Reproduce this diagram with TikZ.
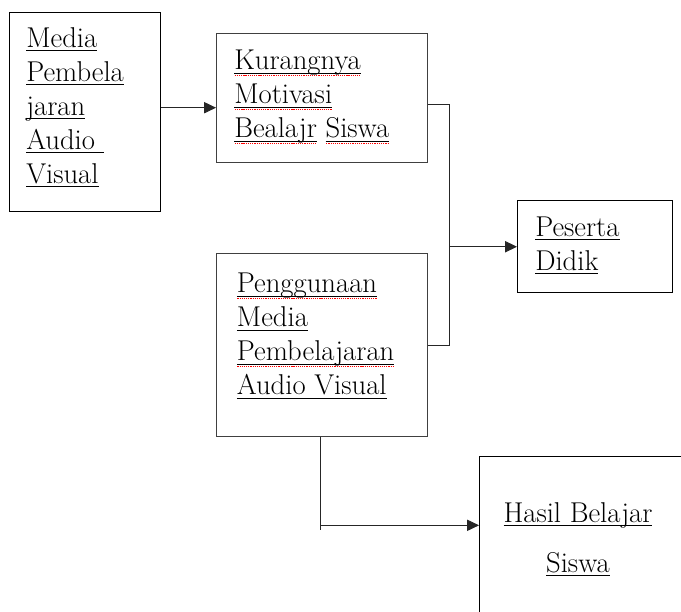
\documentclass[tikz,border=0pt]{standalone}
\usepackage{fontspec}
\usetikzlibrary{arrows.meta}
% underline, and red dotted spell-check mark under it
\newsavebox\ulbox
\newcommand\uword[1]{\sbox\ulbox{#1}\rlap{\rule[-2.8pt]{\wd\ulbox}{0.8pt}}#1}
\newcommand\spell[1]{\sbox\ulbox{#1}%
  \rlap{\color{red}\hbox to\wd\ulbox{\xleaders\hbox to 1.6pt{\hss\rule[-4.3pt]{0.9pt}{0.8pt}\hss}\hfill}}%
  \uword{#1}}
\begin{document}
\begin{tikzpicture}[x=0.75pt,y=-0.75pt,
  box/.style={draw,line width=1.1pt,anchor=north west,inner sep=0pt},
  thinbox/.style={box,draw=black!75,line width=0.65pt},
  txt/.style={anchor=north west,inner sep=0pt,align=left,font=\fontsize{21.5}{25.5}\selectfont},
  link/.style={draw=black!85,line width=0.6pt},
  arrow/.style={link,-{Triangle[length=9pt,width=8.5pt]}}]
  \useasboundingbox (0,0) rectangle (681,611);
  \fill[white] (0,0) rectangle (681,611);
  \clip (0,0) rectangle (681,611);
  % boxes
  \node[box,minimum width=113.25pt,minimum height=149.25pt] (media) at (9,12) {};
  \node[thinbox,minimum width=158.25pt,minimum height=96.75pt] (kurang) at (216,33) {};
  \node[thinbox,minimum width=158.25pt,minimum height=137.25pt] (guna) at (216,253) {};
  \node[box,minimum width=116.25pt,minimum height=69pt] (peserta) at (517,200) {};
  \node[box,minimum width=195pt,minimum height=150pt] (hasil) at (479,456) {};
  % texts
  \node[txt] (media-t) at ([shift={(12.75pt,-11.25pt)}]media.north west)
    {\uword{Media}\\ \uword{Pembela}\\ \uword{jaran}\\ \uword{Audio\ }\\ \uword{Visual}};
  \node[txt] (kurang-t) at ([shift={(13.5pt,-12.75pt)}]kurang.north west)
    {\spell{Kurangnya}\\ \spell{Motivasi}\\ \spell{Bealajr} \spell{Siswa}};
  \node[txt] (guna-t) at ([shift={(15.5pt,-15pt)}]guna.north west)
    {\spell{Penggunaan}\\ \uword{Media}\\ \spell{Pembelajaran}\\ \uword{Audio Visual}};
  \node[txt] (peserta-t) at ([shift={(13.5pt,-12.5pt)}]peserta.north west)
    {\uword{Peserta}\\ \uword{Didik}};
  \node[txt,anchor=north,align=center,font=\fontsize{21.5}{37.5}\selectfont] (hasil-t) at (578,502)
    {\uword{Hasil Belajar}\\ \uword{Siswa}};
  % connectors
  \coordinate (bustop) at (449,104.7);
  \coordinate (busbot) at (449,345);
  \coordinate (elbow) at (320,525.3);
  \draw[arrow] ([yshift=3.4pt]media.east) -- ([yshift=3.4pt]media.east -| kurang.west);
  \draw[link] (kurang.east |- bustop) -- (bustop) -- (busbot) -- (guna.east |- busbot);
  \draw[arrow] (bustop |- peserta.west) -- (peserta.west);
  \draw[link] (guna.south -| elbow) -- ([yshift=-3.5pt]elbow);
  \draw[arrow] (elbow) -- (elbow -| hasil.west);
\end{tikzpicture}
\end{document}
